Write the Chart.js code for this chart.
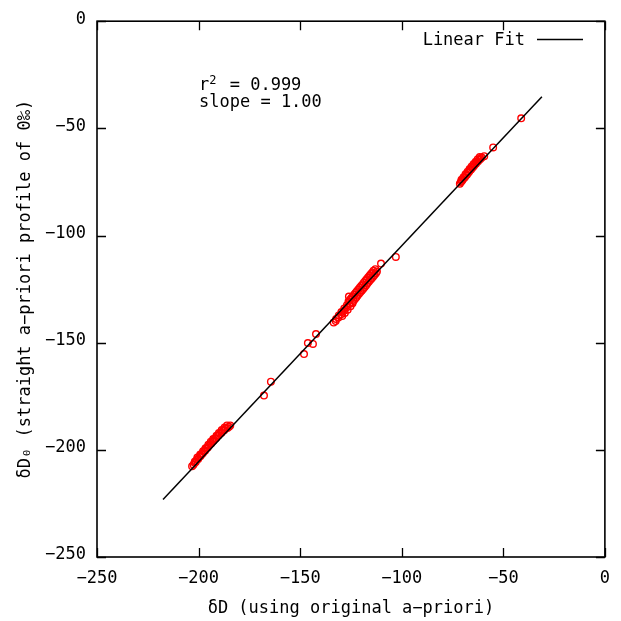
<!DOCTYPE html>
<html>
<head>
<meta charset="utf-8">
<script src="https://cdn.jsdelivr.net/npm/chart.js@4.4.1/dist/chart.umd.min.js"></script>
<style>
  html, body { margin: 0; padding: 0; background: #fff; }
  #wrap { width: 621px; height: 621px; }
</style>
</head>
<body>
<div id="wrap"><canvas id="c" width="621" height="621"></canvas></div>
<script>
// ---- data ----
// δD using original a-priori (x) and δD0 straight a-priori (y)
const pointsX = [
  // cluster near -200
  -203.2, -202.5, -202.0, -201.4, -200.8, -200.2, -199.6, -199.0, -198.5, -197.9,
  -197.3, -196.8, -196.2, -195.6, -195.0, -194.4, -193.8, -193.2, -192.6, -192.0,
  -191.4, -190.8, -190.1, -189.4, -188.7, -188.0, -187.4, -186.6, -185.8, -185.0, -184.4,
  -201.8, -200.6, -199.2, -197.8, -196.6, -195.2, -194.0, -192.8, -191.2, -190.0,
  -188.6, -187.2, -186.0,
  // isolated points
  -167.8, -164.4, -148.1, -146.2, -143.7, -142.2,
  // cluster near -120 : tail
  -133.5, -132.5, -132.3, -131.1, -131.0, -129.8, -129.7, -128.4, -128.3, -127.0,
  -127.0, -125.7, -129.3, -128.0, -126.6, -125.2, -124.2,
  // cluster near -120 : body
  -126.2, -124.4, -125.5, -123.7, -124.8, -123.0, -124.1, -122.3, -123.5, -121.7,
  -122.8, -121.0, -122.1, -120.3, -121.4, -119.6, -120.7, -118.9, -120.0, -118.2,
  -119.3, -117.5, -118.7, -116.9, -118.0, -116.2, -117.3, -115.5, -116.6, -114.8,
  -115.9, -114.1, -115.2, -113.4, -114.5, -112.7, -113.9, -112.2, -113.0,
  -126.0, -110.2, -102.9,
  // cluster near -65
  -71.4, -70.9, -70.4, -69.9, -69.4, -68.9, -68.4, -67.9, -67.4, -66.9,
  -66.4, -65.9, -65.4, -64.9, -64.4, -63.9, -63.4, -62.9, -62.4, -61.9,
  -61.3, -60.6, -59.4,
  -70.6, -69.6, -68.6, -67.6, -66.6, -65.6, -64.6, -63.6, -62.6, -61.6,
  -55.0, -41.2
];
const pointsY = [
  -207.6, -207.0, -206.0, -205.7, -204.6, -204.3, -203.2, -202.9, -202.0, -201.6,
  -200.5, -200.4, -199.3, -199.0, -198.2, -197.5, -197.0, -196.0, -195.8, -194.7,
  -194.6, -193.5, -193.2, -192.4, -192.0, -191.0, -190.9, -189.9, -189.8, -189.2, -188.6,
  -205.4, -203.6, -202.2, -200.6, -199.2, -197.6, -196.2, -195.0, -193.4, -192.2,
  -190.8, -189.6, -188.6,
  -174.7, -168.2, -155.3, -150.2, -150.6, -146.0,
  -140.6, -139.9, -138.9, -138.3, -137.3, -136.7, -135.7, -135.1, -134.1, -133.5,
  -132.5, -131.9, -137.6, -136.2, -134.6, -133.0, -131.6,
  -130.8, -131.2, -130.0, -130.4, -129.2, -129.6, -128.4, -128.8, -127.6, -128.0,
  -126.8, -127.2, -126.0, -126.4, -125.2, -125.6, -124.4, -124.8, -123.6, -124.0,
  -122.8, -123.2, -122.0, -122.4, -121.2, -121.6, -120.4, -120.8, -119.6, -120.0,
  -118.8, -119.2, -118.0, -118.4, -117.2, -117.6, -116.4, -116.8, -115.7,
  -128.5, -113.1, -110.0,
  -75.8, -75.0, -74.6, -73.9, -73.2, -72.8, -72.0, -71.6, -70.8, -70.4,
  -69.6, -69.2, -68.5, -68.0, -67.4, -66.8, -66.4, -65.6, -65.3, -64.6,
  -64.3, -63.6, -63.0,
  -74.0, -72.8, -71.4, -70.2, -69.0, -67.8, -66.6, -65.6, -64.4, -63.4,
  -58.9, -45.3
];
// linear fit end points
const fitX = [-217.5, -31.0];
const fitY = [-223.2, -35.3];
// axis ticks
const xTicks = [-250, -200, -150, -100, -50, 0];
const yTicks = [-250, -200, -150, -100, -50, 0];
const legendLabel = 'Linear Fit';
const r2Text = ['r', '2', ' = 0.999'];
const slopeText = 'slope = 1.00';
const xTitle = 'δD (using original a−priori)';
const yTitle = 'δD₀ (straight a−priori profile of 0‰)';

const FONT = "'DejaVu Sans Mono', 'Liberation Mono', monospace";

const scatterData = pointsX.map((x, i) => ({ x: x, y: pointsY[i] }));
const fitData = fitX.map((x, i) => ({ x: x, y: fitY[i] }));
const fmt = v => String(v).replace('-', '−');

const framePlugin = {
  id: 'frame',
  afterDraw(chart) {
    const { ctx, chartArea: a, scales } = chart;
    const xs = scales.x, ys = scales.y;
    ctx.save();
    ctx.strokeStyle = '#000';
    ctx.lineWidth = 1.6;
    ctx.strokeRect(a.left, a.top, a.right - a.left, a.bottom - a.top);
    ctx.lineWidth = 1.3;
    const tl = 9;
    ctx.beginPath();
    xTicks.forEach(v => {
      const px = Math.round(xs.getPixelForValue(v)) + 0.5;
      ctx.moveTo(px, a.bottom); ctx.lineTo(px, a.bottom - tl);
      ctx.moveTo(px, a.top); ctx.lineTo(px, a.top + tl);
    });
    yTicks.forEach(v => {
      const py = Math.round(ys.getPixelForValue(v)) + 0.5;
      ctx.moveTo(a.left, py); ctx.lineTo(a.left + tl, py);
      ctx.moveTo(a.right, py); ctx.lineTo(a.right - tl, py);
    });
    ctx.stroke();

    // legend (text then line sample)
    ctx.fillStyle = '#000';
    ctx.font = '17px ' + FONT;
    ctx.textAlign = 'right';
    ctx.textBaseline = 'alphabetic';
    ctx.fillText(legendLabel, 525, 45);
    ctx.lineWidth = 1.5;
    ctx.beginPath();
    ctx.moveTo(537, 39.5); ctx.lineTo(583, 39.5);
    ctx.stroke();

    // statistics
    ctx.textAlign = 'left';
    const cw = ctx.measureText('0').width;
    ctx.fillText(r2Text[0], 199, 90);
    ctx.font = '12px ' + FONT;
    ctx.fillText(r2Text[1], 199 + cw, 84);
    ctx.font = '17px ' + FONT;
    ctx.fillText(r2Text[2], 199 + 2 * cw, 90);
    ctx.fillText(slopeText, 199, 107);
    ctx.restore();
  }
};

new Chart(document.getElementById('c'), {
  type: 'scatter',
  data: {
    datasets: [
      {
        type: 'line',
        label: legendLabel,
        data: fitData,
        borderColor: '#000',
        borderWidth: 1.5,
        pointRadius: 0,
        fill: false,
        order: 0
      },
      {
        label: 'data',
        data: scatterData,
        pointStyle: 'circle',
        pointRadius: 3.3,
        borderColor: '#ff0000',
        backgroundColor: 'rgba(0,0,0,0)',
        borderWidth: 1.4,
        order: 1
      }
    ]
  },
  options: {
    responsive: false,
    animation: false,
    devicePixelRatio: 1,
    layout: { padding: { top: 17, right: 16, left: 0, bottom: 0 } },
    plugins: { legend: { display: false }, tooltip: { enabled: false } },
    scales: {
      x: {
        type: 'linear',
        min: -250, max: 0,
        afterBuildTicks: s => { s.ticks = xTicks.map(v => ({ value: v })); },
        afterFit: s => { s.height = 64; },
        ticks: { font: { family: FONT, size: 17 }, color: '#000', padding: 11, maxRotation: 0, callback: fmt },
        grid: { display: false, drawTicks: false },
        border: { display: false },
        title: { display: true, text: xTitle, color: '#000', font: { family: FONT, size: 17 }, padding: { top: 0, bottom: 2 } }
      },
      y: {
        type: 'linear',
        min: -250, max: 0,
        afterBuildTicks: s => { s.ticks = yTicks.map(v => ({ value: v })); },
        afterFit: s => { s.width = 97; },
        ticks: { font: { family: FONT, size: 17 }, color: '#000', padding: 11, labelOffset: -2, callback: fmt },
        grid: { display: false, drawTicks: false },
        border: { display: false },
        title: { display: true, text: yTitle, color: '#000', font: { family: FONT, size: 17 }, padding: { top: 15, bottom: 0 } }
      }
    }
  },
  plugins: [framePlugin]
});
</script>
</body>
</html>
